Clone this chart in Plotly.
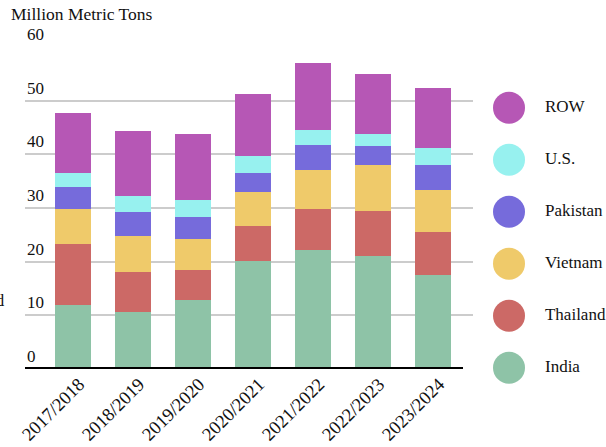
import plotly.graph_objects as go

seasons = ["2017/2018", "2018/2019", "2019/2020", "2020/2021", "2021/2022", "2022/2023", "2023/2024"]
india = [12.0, 10.6, 12.8, 20.2, 22.1, 21.0, 17.6]
thailand = [11.2, 7.4, 5.6, 6.4, 7.8, 8.5, 7.9]
vietnam = [6.7, 6.7, 5.9, 6.3, 7.1, 8.6, 7.8]
pakistan = [4.1, 4.5, 4.1, 3.7, 4.8, 3.4, 4.8]
us = [2.6, 3.0, 3.0, 3.0, 2.7, 2.2, 3.0]
row = [11.1, 12.2, 12.3, 11.6, 12.6, 11.2, 11.2]

names = ["India", "Thailand", "Vietnam", "Pakistan", "U.S.", "ROW"]
colors = ["#8ec3a7", "#cc6966", "#efca6a", "#766bdb", "#97f1ef", "#b657b5"]
series = [india, thailand, vietnam, pakistan, us, row]
y_ticks = [0, 10, 20, 30, 40, 50, 60]

FONT = "Liberation Serif, DejaVu Serif, serif"
W, H = 606, 447
ML, MR, MT, MB = 25, 0, 47, 78
PW = W - ML - MR
PH = H - MT - MB

fig = go.Figure()
for name, vals, col in zip(names, series, colors):
    fig.add_trace(go.Bar(x=seasons, y=vals, name=name, marker=dict(color=col, line=dict(width=0)),
                         width=0.6, showlegend=False))

# Custom legend (large circles)
fig.add_trace(go.Scatter(x=[509] * len(names), y=names, mode="markers",
                         marker=dict(size=32, color=colors, line=dict(width=0)),
                         xaxis="x2", yaxis="y2", showlegend=False, hoverinfo="skip",
                         cliponaxis=False))
fig.add_trace(go.Scatter(x=[545] * len(names), y=names, mode="text", text=names,
                         textposition="middle right",
                         textfont=dict(family=FONT, size=17, color="#111"),
                         xaxis="x2", yaxis="y2", showlegend=False, hoverinfo="skip",
                         cliponaxis=False))

annotations = [
    dict(text="Million Metric Tons", xref="paper", yref="paper",
         x=(9 - ML) / PW, y=(H - MB - 2) / PH, xanchor="left", yanchor="top",
         showarrow=False, font=dict(family=FONT, size=17.5, color="#111")),
    dict(text="Milled", xref="paper", yref="paper",
         x=(7 - ML) / PW, y=(H - MB - 300) / PH, xanchor="right", yanchor="middle",
         showarrow=False, font=dict(family=FONT, size=17, color="#111")),
]
for t in y_ticks:
    annotations.append(dict(text=str(t), xref="paper", yref="y", x=0, y=t,
                            xanchor="left", yanchor="bottom", yshift=1, showarrow=False,
                            font=dict(family=FONT, size=17, color="#111")))

plot_right = 473
fig.update_layout(
    width=W, height=H,
    margin=dict(l=ML, r=MR, t=MT, b=MB, pad=0, autoexpand=False),
    paper_bgcolor="white", plot_bgcolor="white",
    barmode="stack",
    font=dict(family=FONT, size=17, color="#111"),
    xaxis=dict(domain=[0, (plot_right - ML) / PW], type="category",
               range=[-0.8, 6.667], tickangle=-45, showgrid=False,
               showline=False, zeroline=False, ticks="", automargin=False,
               ticklabelstandoff=0, ticklabelshift=6,
               tickfont=dict(family=FONT, size=18.5, color="#111")),
    yaxis=dict(range=[0, 60], tickvals=y_ticks, showticklabels=False, automargin=False,
               showgrid=True, gridcolor="#cccccc", gridwidth=2,
               zeroline=False, showline=False, ticks=""),
    xaxis2=dict(domain=[(489.8 - ML) / PW, 1], range=[489.8, 606], visible=False),
    yaxis2=dict(domain=[0, 1], type="category", categoryorder="array", categoryarray=names,
                range=[-0.025, -0.025 + PH / 52.0], visible=False, anchor="x2"),
    shapes=[dict(type="line", xref="paper", yref="y", x0=0, x1=(463 - ML) / PW, y0=0, y1=0,
                 line=dict(color="black", width=4), layer="above")],
    annotations=annotations,
)

fig.write_html("out.html", config={"displayModeBar": False},
               post_script="document.body.style.margin='0px';")
